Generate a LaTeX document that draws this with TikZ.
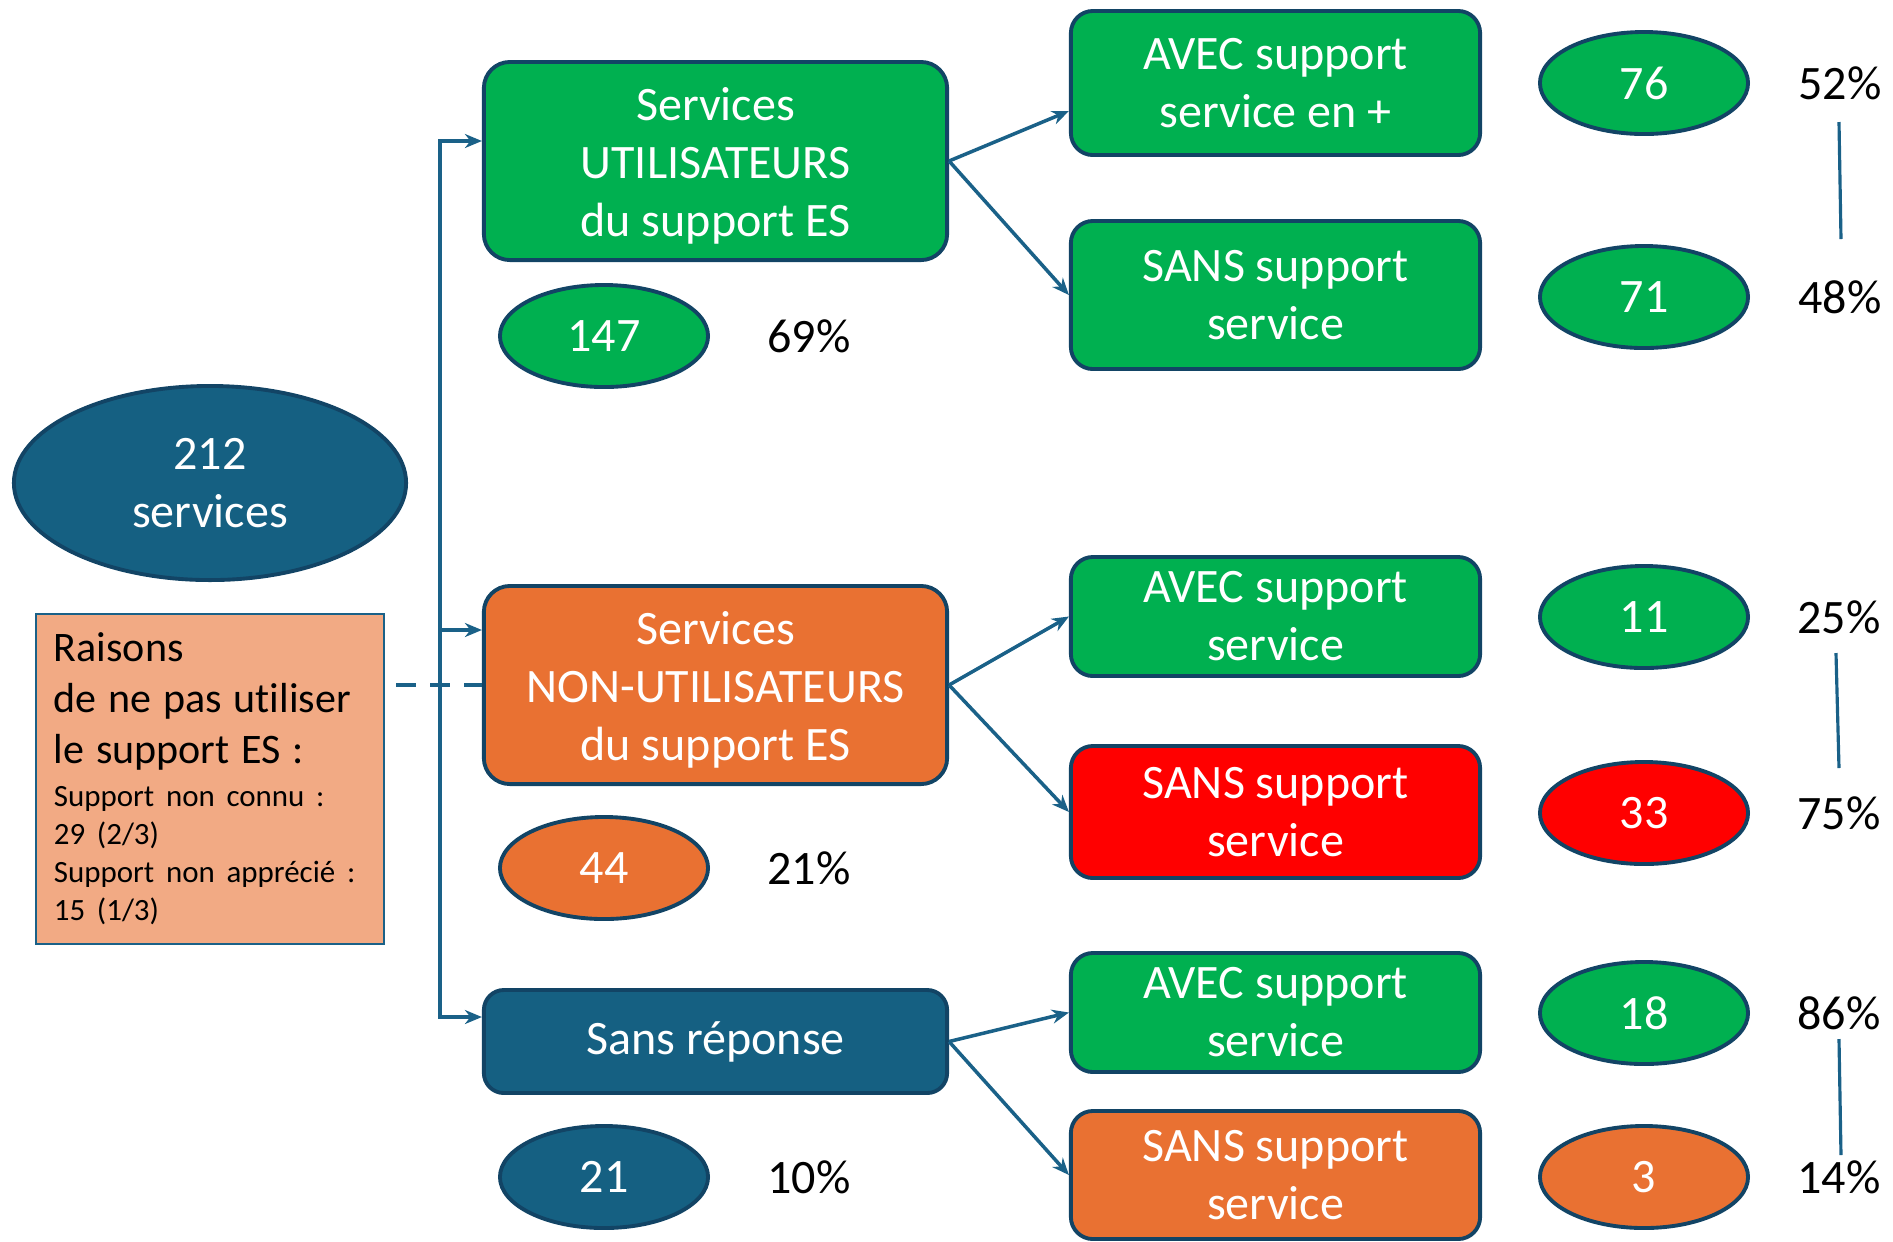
\documentclass[tikz,border=0pt]{standalone}
\usepackage{fontspec}
\setmainfont{Carlito}[Ligatures=NoCommon]
\usetikzlibrary{shapes.geometric,arrows.meta,calc}
\definecolor{grn}{HTML}{00B050}
\definecolor{org}{HTML}{E97132}
\definecolor{rd}{HTML}{FF0000}
\definecolor{dblue}{HTML}{156082}
\definecolor{bordc}{HTML}{124465}
\definecolor{arrc}{HTML}{1A6188}
\definecolor{salmon}{HTML}{F2AA84}
\newcommand\mainf{\fontsize{13.66pt}{16.5pt}\selectfont}
\newcommand\bigf{\fontsize{11.95pt}{14.5pt}\selectfont}
\newcommand\smallf{\fontsize{8.8pt}{10.8pt}\selectfont}
\begin{document}
\begin{tikzpicture}[x=0.01cm,y=-0.01cm,
  box/.style={draw=bordc,line width=1.1pt,rounded corners=0.26cm,text=white,align=center,font=\mainf,inner sep=0pt},
  rbox/.style={box,rounded corners=0.22cm,minimum width=4.09cm},
  ell/.style={ellipse,draw=bordc,line width=1.1pt,text=white,font=\mainf,inner sep=0pt,align=center},
  sell/.style={ell,minimum width=2.08cm,minimum height=1.02cm},
  pct/.style={font=\mainf,text=black,inner sep=0pt},
  arr/.style={draw=arrc,line width=1pt,-{Stealth[length=0.17cm,width=0.14cm]}},
  pline/.style={draw=arrc,line width=0.9pt}]
\useasboundingbox (0,0) rectangle (1893,1241);

% left
\node[ell,fill=dblue,minimum width=3.92cm,minimum height=1.94cm] (e212) at (210,483) {212\\services};
\node[draw=arrc,line width=0.6pt,fill=salmon,minimum width=3.48cm,minimum height=3.29cm,text width=3.12cm,inner xsep=0.18cm,inner ysep=0pt,anchor=center,align=left] (r) at (210,779)
 {{\bigf Raisons\par de ne pas utiliser\par le support ES :\par}\vspace{1.5pt}{\smallf Support non connu :\par 29 (2/3)\par Support non appr\'eci\'e :\par 15 (1/3)\par}};

% middle boxes
\node[box,fill=grn,minimum width=4.63cm,minimum height=1.98cm] (u) at (715.5,161) {\rule{0pt}{12.3pt}Services\\UTILISATEURS\\du support ES};
\node[box,fill=org,minimum width=4.63cm,minimum height=1.98cm] (nu) at (715.5,685) {\rule{0pt}{12.3pt}Services\\NON-UTILISATEURS\\du support ES};
\node[box,fill=dblue,rounded corners=0.2cm,minimum width=4.63cm,minimum height=1.03cm] (sr) at (715.5,1041.5) {Sans r\'eponse};

\node[sell,fill=grn] (e147) at (604,336) {147};
\node[pct] (p69) at (809,336) {69\%};
\node[sell,fill=org] (e44) at (604,868) {44};
\node[pct] (p21) at (809,868) {21\%};
\node[sell,fill=dblue] (e21) at (604,1177) {21};
\node[pct] (p10) at (809,1177) {10\%};

% right boxes
\node[rbox,fill=grn,minimum height=1.44cm] (a1) at (1275.5,83) {AVEC support\\service en +};
\node[rbox,fill=grn,minimum height=1.48cm] (s1) at (1275.5,295) {SANS support\\service};
\node[rbox,fill=grn,minimum height=1.19cm] (a2) at (1275.5,616.5) {AVEC support\\service};
\node[rbox,fill=rd,minimum height=1.32cm] (s2) at (1275.5,812) {SANS support\\service};
\node[rbox,fill=grn,minimum height=1.19cm] (a3) at (1275.5,1012.5) {AVEC support\\service};
\node[rbox,fill=org,minimum height=1.28cm] (s3) at (1275.5,1175) {SANS support\\service};

% right ellipses
\node[sell,fill=grn] (e76) at (1644,83) {76};
\node[sell,fill=grn] (e71) at (1644,297) {71};
\node[sell,fill=grn] (e11) at (1644,617) {11};
\node[sell,fill=rd] (e33) at (1644,813) {33};
\node[sell,fill=grn] (e18) at (1644,1013) {18};
\node[sell,fill=org] (e3) at (1644,1177) {3};

% percentages
\node[pct] (p52) at (1840,83) {52\%};
\node[pct] (p48) at (1840,297) {48\%};
\node[pct] (p25) at (1839,617) {25\%};
\node[pct] (p75) at (1839,813) {75\%};
\node[pct] (p86) at (1839,1013) {86\%};
\node[pct] (p14) at (1839,1177) {14\%};

\draw[pline] ($(p52)+(-1,39)$) -- ($(p48)+(1,-58)$);
\draw[pline] ($(p25)+(-3,36)$) -- ($(p75)+(0,-45)$);
\draw[pline] ($(p86)+(0,26)$) -- ($(p14)+(2,-22)$);

% trunk
\coordinate (tt) at (440,141);
\coordinate (tm) at (440,630);
\coordinate (tb) at (440,1017);
\draw[arr] (tb) -- (tt) -- (tt -| u.west);
\draw[arr] (tm) -- (tm -| nu.west);
\draw[arr] (tt) -- (tb) -- (tb -| sr.west);
\draw[draw=arrc,line width=0.9pt,dash pattern=on 0.2cm off 0.14cm] ($(r.east |- nu.west)+(11,0)$) -- (nu.west);

% branches
\draw[arr] (u.east) -- ($(a1.west)+(0,28)$);
\draw[arr] (u.east) -- (s1.west);
\draw[arr] (nu.east) -- (a2.west);
\draw[arr] (nu.east) -- (s2.west);
\draw[arr] (sr.east) -- (a3.west);
\draw[arr] (sr.east) -- (s3.west);
\end{tikzpicture}
\end{document}
